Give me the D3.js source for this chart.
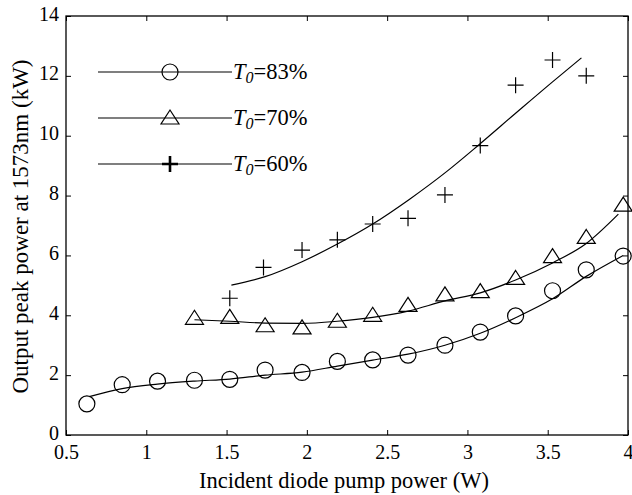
<!DOCTYPE html>
<html>
<head>
<meta charset="utf-8">
<script src="https://cdn.jsdelivr.net/npm/d3@7"></script>
<style>
  body { margin: 0; background: #fff; }
  svg { font-family: 'Liberation Serif', 'Times New Roman', serif; }
</style>
</head>
<body>
<svg width="632" height="495"></svg>
<script>
// measured points
const x83 = [0.63, 0.85, 1.07, 1.3, 1.52, 1.74, 1.97, 2.19, 2.41, 2.63, 2.86, 3.08, 3.3, 3.53, 3.74, 3.97]
const y83 = [1.04, 1.68, 1.8, 1.83, 1.86, 2.17, 2.09, 2.46, 2.51, 2.67, 3.0, 3.44, 3.98, 4.82, 5.52, 5.98]
const x70 = [1.3, 1.52, 1.74, 1.97, 2.19, 2.41, 2.63, 2.86, 3.08, 3.3, 3.53, 3.74, 3.97]
const y70 = [3.9, 3.93, 3.65, 3.58, 3.8, 4.0, 4.33, 4.68, 4.79, 5.23, 5.96, 6.6, 7.68]
const x60 = [1.52, 1.73, 1.97, 2.19, 2.41, 2.63, 2.86, 3.08, 3.3, 3.53, 3.74]
const y60 = [4.57, 5.6, 6.18, 6.52, 7.05, 7.24, 8.02, 9.67, 11.69, 12.53, 12.0]

// fitted curves
const fx83 = [0.645, 0.85, 1.07, 1.3, 1.52, 1.74, 1.97, 2.19, 2.41, 2.63, 2.86, 3.08, 3.3, 3.53, 3.74, 3.97]
const fy83 = [1.28, 1.55, 1.7, 1.8, 1.87, 2.0, 2.1, 2.3, 2.5, 2.7, 3.0, 3.4, 3.92, 4.55, 5.3, 6.0]
const fx70 = [1.3, 1.52, 1.74, 1.97, 2.19, 2.41, 2.63, 2.86, 3.08, 3.3, 3.53, 3.74, 3.94]
const fy70 = [3.85, 3.8, 3.74, 3.73, 3.8, 3.93, 4.14, 4.48, 4.75, 5.18, 5.75, 6.4, 7.38]
const fx60 = [1.53, 1.74, 1.97, 2.19, 2.41, 2.64, 2.87, 3.07, 3.3, 3.53, 3.71]
const fy60 = [5.01, 5.29, 5.79, 6.38, 7.05, 7.88, 8.8, 9.69, 10.75, 11.8, 12.6]

const xTicks = [0.5, 1, 1.5, 2, 2.5, 3, 3.5, 4]
const yTicks = [0, 2, 4, 6, 8, 10, 12, 14]
const legendLabels = ['83%', '70%', '60%']

const svg = d3.select('svg')
const mLeft = 66, mRight = 628, mTop = 16, mBottom = 435

const x = d3.scaleLinear().domain([0.5, 4]).range([mLeft, mRight])
const y = d3.scaleLinear().domain([0, 14]).range([mBottom, mTop])

// frame
svg.append('rect')
  .attr('x', mLeft).attr('y', mTop)
  .attr('width', mRight - mLeft).attr('height', mBottom - mTop)
  .attr('fill', 'none').attr('stroke', '#000').attr('stroke-width', 1.3)

const xAxis = svg.append('g').attr('transform', `translate(0,${mBottom})`)
  .call(d3.axisBottom(x).tickValues(xTicks).tickSize(-5).tickPadding(10).tickFormat(d3.format('')))
const xTop = svg.append('g').attr('transform', `translate(0,${mTop})`)
  .call(d3.axisTop(x).tickValues(xTicks).tickSize(-5).tickFormat(''))
const yAxis = svg.append('g').attr('transform', `translate(${mLeft},0)`)
  .call(d3.axisLeft(y).tickValues(yTicks).tickSize(-5).tickPadding(7))
const yRight = svg.append('g').attr('transform', `translate(${mRight},0)`)
  .call(d3.axisRight(y).tickValues(yTicks).tickSize(-5).tickFormat(''))

;[xAxis, xTop, yAxis, yRight].forEach(g => {
  g.select('.domain').remove()
  g.selectAll('line').attr('stroke', '#000')
  g.selectAll('text').attr('font-family', 'Liberation Serif').attr('font-size', 20).attr('fill', '#000')
})
yAxis.selectAll('text').attr('dy', '0.2em')

svg.append('text')
  .attr('x', (mLeft + mRight) / 2 - 3).attr('y', 488)
  .attr('text-anchor', 'middle').attr('font-size', 22.5)
  .text('Incident diode pump power (W)')

svg.append('text')
  .attr('transform', `translate(28,${(mTop + mBottom) / 2 + 1}) rotate(-90)`)
  .attr('text-anchor', 'middle').attr('font-size', 23)
  .text('Output peak power at 1573nm (kW)')

const line = d3.line().x(d => x(d[0])).y(d => y(d[1])).curve(d3.curveMonotoneX)

function drawCurve (xs, ys) {
  svg.append('path')
    .datum(d3.zip(xs, ys))
    .attr('d', line)
    .attr('fill', 'none').attr('stroke', '#000').attr('stroke-width', 1.2)
}

function marker (g, kind, cx, cy, bold) {
  if (kind === 'circle') {
    g.append('circle').attr('cx', cx).attr('cy', cy).attr('r', 8)
      .attr('fill', 'none').attr('stroke', '#000').attr('stroke-width', 1.2)
  } else if (kind === 'tri') {
    g.append('path')
      .attr('d', `M${cx},${cy - 8}L${cx + 9},${cy + 6}L${cx - 9},${cy + 6}Z`)
      .attr('fill', 'none').attr('stroke', '#000').attr('stroke-width', 1.2)
  } else {
    g.append('path')
      .attr('d', `M${cx - 8},${cy}H${cx + 8}M${cx},${cy - 8}V${cy + 8}`)
      .attr('fill', 'none').attr('stroke', '#000').attr('stroke-width', bold ? 2.6 : 1.2)
  }
}

drawCurve(fx83, fy83)
drawCurve(fx70, fy70)
drawCurve(fx60, fy60)

const pts = svg.append('g')
x83.forEach((v, i) => marker(pts, 'circle', x(v), y(y83[i])))
x70.forEach((v, i) => marker(pts, 'tri', x(v), y(y70[i])))
x60.forEach((v, i) => marker(pts, 'plus', x(v), y(y60[i])))

// legend
const kinds = ['circle', 'tri', 'plus']
const legend = svg.append('g')
legendLabels.forEach((lab, i) => {
  const ly = 72 + i * 46
  legend.append('line').attr('x1', 98).attr('x2', 232).attr('y1', ly).attr('y2', ly)
    .attr('stroke', '#000').attr('stroke-width', 1.2)
  marker(legend, kinds[i], 170, ly, true)
  const t = legend.append('text').attr('x', 233).attr('y', ly + 7).attr('font-size', 22.5)
  t.append('tspan').attr('font-style', 'italic').text('T')
  t.append('tspan').attr('font-style', 'italic').attr('font-size', 16).attr('dy', 4).text('0')
  t.append('tspan').attr('dy', -4).text('=' + lab)
})
</script>
</body>
</html>
